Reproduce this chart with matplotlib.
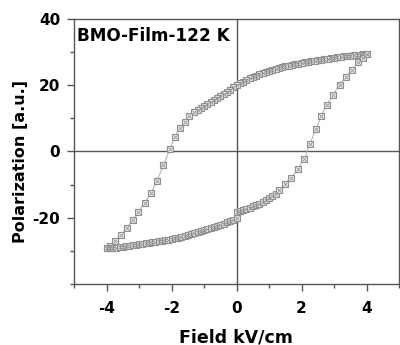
import matplotlib
matplotlib.use("Agg")
import matplotlib.pyplot as plt
from matplotlib.ticker import MultipleLocator

# Descending branch (E from +4 to -4)
field_down = [4.0, 3.9, 3.8, 3.7, 3.6, 3.5, 3.4, 3.3, 3.2, 3.1, 3.0, 2.9, 2.8, 2.7, 2.6,
              2.5, 2.4, 2.3, 2.2, 2.1, 2.0, 1.9, 1.8, 1.7, 1.6, 1.5, 1.4, 1.3, 1.2, 1.1,
              1.0, 0.9, 0.8, 0.7, 0.6, 0.5, 0.4, 0.3, 0.2, 0.1, 0.0, -0.1, -0.2, -0.3,
              -0.4, -0.5, -0.6, -0.7, -0.8, -0.9, -1.0, -1.1, -1.2, -1.3, -1.45, -1.6,
              -1.75, -1.9, -2.05, -2.25, -2.45, -2.62, -2.83, -3.02, -3.19, -3.37, -3.55,
              -3.75, -3.9, -4.0]
pol_down = [29.3, 29.3, 29.2, 29.1, 29.0, 28.9, 28.8, 28.7, 28.6, 28.5, 28.3, 28.2, 28.0,
            27.9, 27.7, 27.6, 27.4, 27.3, 27.1, 26.9, 26.7, 26.5, 26.3, 26.1, 25.9, 25.7,
            25.4, 25.2, 24.9, 24.7, 24.4, 24.0, 23.7, 23.3, 22.9, 22.5, 22.1, 21.6, 21.1,
            20.6, 20.0, 19.4, 18.6, 17.9, 17.2, 16.6, 16.0, 15.4, 14.9, 14.3, 13.7, 13.1,
            12.5, 11.8, 10.6, 8.9, 7.0, 4.4, 0.6, -4.2, -8.9, -12.4, -15.6, -18.2, -20.6,
            -23.0, -25.2, -27.0, -28.5, -29.3]

# Ascending branch (E from -4 to +4)
field_up = [-4.0, -3.9, -3.8, -3.7, -3.6, -3.5, -3.4, -3.3, -3.2, -3.1, -3.0, -2.9, -2.8,
            -2.7, -2.6, -2.5, -2.4, -2.3, -2.2, -2.1, -2.0, -1.9, -1.8, -1.7, -1.6, -1.5,
            -1.4, -1.3, -1.2, -1.1, -1.0, -0.9, -0.8, -0.7, -0.6, -0.5, -0.4, -0.3, -0.2,
            -0.1, 0.0, 0.0, 0.1, 0.2, 0.3, 0.4, 0.5, 0.6, 0.7, 0.8, 0.9, 1.0, 1.1, 1.2,
            1.32, 1.48, 1.68, 1.89, 2.09, 2.25, 2.45, 2.6, 2.78, 2.97, 3.17, 3.37, 3.56,
            3.73, 3.9, 4.0]
pol_up = [-29.3, -29.2, -29.1, -29.0, -28.9, -28.8, -28.6, -28.5, -28.3, -28.2, -28.0,
          -27.9, -27.7, -27.6, -27.4, -27.3, -27.1, -27.0, -26.8, -26.6, -26.4, -26.2,
          -26.0, -25.8, -25.5, -25.2, -25.0, -24.6, -24.4, -24.1, -23.8, -23.5, -23.2,
          -22.9, -22.5, -22.1, -21.8, -21.4, -21.0, -20.6, -20.2, -18.2, -17.9, -17.6,
          -17.3, -17.0, -16.6, -16.2, -15.8, -15.4, -14.8, -14.2, -13.5, -12.7, -11.6,
          -9.9, -7.9, -5.2, -2.2, 2.1, 6.8, 10.6, 14.1, 17.1, 20.2, 22.5, 24.5, 26.9,
          28.3, 29.3]

x_ticks = [-4, -2, 0, 2, 4]
y_ticks = [-20, 0, 20, 40]
y_ticklabels = ['-20', '0', '20', '40']
x_ticklabels = ['-4', '-2', '0', '2', '4']

plt.rcParams['font.family'] = ['DejaVu Sans']
plt.rcParams['font.weight'] = 'bold'

fig = plt.figure(figsize=(4.0, 3.45), dpi=100)
ax = fig.add_axes([0.185, 0.177, 0.8125, 0.768])

spine_c = '#555555'
ax.axhline(0, color=spine_c, lw=1.0, zorder=1)
ax.axvline(0, color=spine_c, lw=1.0, zorder=1)

mc = '#8f8f8f'
for fx, py in [(field_down, pol_down), (field_up, pol_up)]:
    ax.plot(fx, py, '-', color='#b5b5b5', lw=0.8, zorder=2)
    ax.plot(fx, py, 's', ms=3.8, mfc='#efefef', mec=mc, mew=0.8, zorder=3)
    ax.plot(fx, py, 'x', ms=2.4, mec=mc, mew=0.6, zorder=4)

ax.set_xlim(-5, 5)
ax.set_ylim(-40, 40)
ax.set_xticks(x_ticks)
ax.set_xticklabels(x_ticklabels)
ax.set_yticks(y_ticks)
ax.set_yticklabels(y_ticklabels)
ax.xaxis.set_minor_locator(MultipleLocator(1))
ax.yaxis.set_minor_locator(MultipleLocator(10))
ax.tick_params(which='major', direction='out', length=5, width=1, color=spine_c,
               labelsize=11, pad=5)
ax.tick_params(which='minor', direction='out', length=3, width=1, color=spine_c)
ax.tick_params(axis='y', which='both', right=False)
ax.tick_params(axis='x', which='both', top=False)
ax.tick_params(axis='x', which='major', pad=7)
for lab in ax.get_xticklabels() + ax.get_yticklabels():
    lab.set_fontweight('bold')
for s in ax.spines.values():
    s.set_color(spine_c)
    s.set_linewidth(1.0)

ax.set_xlabel('Field kV/cm', fontsize=12.5, fontweight='bold')
ax.xaxis.set_label_coords(0.498, -0.168)
ax.set_ylabel('Polarization [a.u.]', fontsize=11.5, fontweight='bold')
ax.yaxis.set_label_coords(-0.142, 0.462)
ax.text(0.009, 0.917, 'BMO-Film-122 K', transform=ax.transAxes, fontsize=12.2,
        fontweight='bold', va='baseline', ha='left')

fig.savefig('out.png', dpi=100)
